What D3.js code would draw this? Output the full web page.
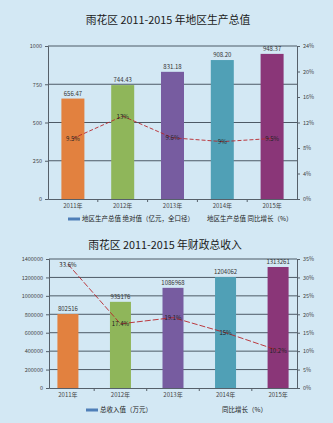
<!DOCTYPE html>
<html><head><meta charset="utf-8">
<script src="https://cdn.jsdelivr.net/npm/d3@7"></script>
<style>
html,body{margin:0;padding:0;background:#d3e8f4;}
svg{display:block;font-family:"Noto Sans CJK SC","Noto Sans",sans-serif;}
</style></head><body>
<svg id="c" width="333" height="423"></svg>
<script>
const years = ["2011年","2012年","2013年","2014年","2015年"];
const colors = ["#e2813f","#8fb65a","#775ca0","#50a0b6","#8a3678"];

// Chart 1: GDP
const gdpTitle = "雨花区 2011-2015 年地区生产总值";
const gdpValues = [656.47, 744.43, 831.18, 908.2, 948.37];
const gdpGrowth = [9.5, 13.0, 9.6, 9.0, 9.5];
const gdpLeftTicks = [0, 250, 500, 750, 1000];
const gdpRightTicks = [0, 4, 8, 12, 16, 20, 24];
const gdpLegend = ["地区生产总值 绝对值（亿元，全口径）", "地区生产总值 同比增长（%）"];

// Chart 2: fiscal revenue
const revTitle = "雨花区 2011-2015 年财政总收入";
const revValues = [802516, 935176, 1086968, 1204062, 1313261];
const revGrowth = [33.6, 17.4, 19.1, 15.0, 10.2];
const revLeftTicks = [0, 200000, 400000, 600000, 800000, 1000000, 1200000, 1400000];
const revRightTicks = [0, 5, 10, 15, 20, 25, 30, 35];
const revLegend = ["总收入值（万元）", "同比增长（%）"];

const svg = d3.select("#c");

function drawChart(o) {
  const g = svg.append("g");
  g.append("text").attr("x", o.titleX).attr("y", o.titleY)
    .attr("text-anchor", "middle").attr("font-size", 10.8).attr("fill", "#1a1a1a")
    .text(o.title);

  const x = d3.scaleBand().domain(years).range([o.left, o.right])
    .paddingInner(o.pi).paddingOuter(o.po);
  const y = d3.scaleLinear().domain([0, o.yMax]).range([o.bottom, o.top]);
  const yr = d3.scaleLinear().domain([0, o.rMax]).range([o.bottom, o.top]);

  // gridlines
  g.append("g").selectAll("line").data(o.leftTicks.filter(d => d > 0)).join("line")
    .attr("x1", o.left).attr("x2", o.right)
    .attr("y1", d => y(d)).attr("y2", d => y(d))
    .attr("stroke", "#4d5a66").attr("stroke-width", 1);

  // bars
  g.append("g").selectAll("rect").data(o.values).join("rect")
    .attr("x", (d, i) => x(years[i]) + (x.bandwidth() - o.barW) / 2)
    .attr("width", o.barW)
    .attr("y", d => y(d)).attr("height", d => o.bottom - y(d))
    .attr("fill", (d, i) => colors[i]);

  // bar labels
  g.append("g").selectAll("text").data(o.values).join("text")
    .attr("x", (d, i) => x(years[i]) + x.bandwidth() / 2)
    .attr("y", d => y(d) - 3)
    .attr("text-anchor", "middle").attr("font-size", 6).attr("fill", "#333")
    .text(d => o.fmt(d));

  // axes
  const ax = g.append("g").attr("transform", `translate(${o.left},0)`)
    .call(d3.axisLeft(y).tickValues(o.leftTicks).tickSize(3).tickFormat(d3.format("d")));
  const axr = g.append("g").attr("transform", `translate(${o.right},0)`)
    .call(d3.axisRight(yr).tickValues(o.rightTicks).tickSize(3).tickFormat(d => d + "%"));
  const axb = g.append("g").attr("transform", `translate(0,${o.bottom})`)
    .call(d3.axisBottom(x).tickSize(0).tickPadding(5));
  [ax, axr, axb].forEach(a => {
    a.selectAll("path").attr("stroke", "#56606a");
    a.selectAll("line").attr("stroke", "#56606a");
    a.selectAll("text").attr("font-size", 5.5).attr("fill", "#444")
      .attr("font-family", '"Noto Sans CJK SC","Noto Sans",sans-serif');
  });
  axb.selectAll("text").attr("font-size", 6);
  // small tick marks between categories
  g.append("g").selectAll("line").data(years.slice(1)).join("line")
    .attr("x1", d => x(d) - x.step() * x.paddingInner() / 2)
    .attr("x2", d => x(d) - x.step() * x.paddingInner() / 2)
    .attr("y1", o.bottom).attr("y2", o.bottom + 3)
    .attr("stroke", "#56606a");

  // growth line
  const line = d3.line().x((d, i) => x(years[i]) + x.bandwidth() / 2).y(d => yr(d));
  g.append("path").datum(o.growth).attr("d", line)
    .attr("fill", "none").attr("stroke", "#b8262b").attr("stroke-width", 0.9)
    .attr("stroke-dasharray", o.dash);
  g.append("g").selectAll("text").data(o.growth).join("text")
    .attr("x", (d, i) => x(years[i]) + x.bandwidth() / 2)
    .attr("y", d => yr(d) + 2.5)
    .attr("text-anchor", "middle").attr("font-size", 6).attr("fill", "#222")
    .text(d => d3.format("~")(d) + "%");

  // legend
  g.append("line").attr("x1", o.lg1).attr("x2", o.lg1 + 12)
    .attr("y1", o.legendY).attr("y2", o.legendY)
    .attr("stroke", "#4f7fb8").attr("stroke-width", 3);
  g.append("text").attr("x", o.lg1 + 14).attr("y", o.legendY + 2.2)
    .attr("font-size", 6.5).attr("fill", "#222").text(o.legend[0]);
  g.append("text").attr("x", o.lg2).attr("y", o.legendY + 2.2)
    .attr("font-size", 6.5).attr("fill", "#222").text(o.legend[1]);
}

drawChart({
  title: gdpTitle, titleX: 168, titleY: 24,
  left: 48, right: 297, top: 46, bottom: 199, pi: 0.54, po: 0.27, barW: 23,
  yMax: 1000, rMax: 24, leftTicks: gdpLeftTicks, rightTicks: gdpRightTicks,
  values: gdpValues, growth: gdpGrowth, fmt: d3.format(".2f"), dash: "4,2",
  legend: gdpLegend, legendY: 219, lg1: 68, lg2: 207
});

drawChart({
  title: revTitle, titleX: 165, titleY: 249,
  left: 49, right: 297, top: 259, bottom: 388, pi: 0.6, po: 0.16, barW: 21,
  yMax: 1400000, rMax: 35, leftTicks: revLeftTicks, rightTicks: revRightTicks,
  values: revValues, growth: revGrowth, fmt: d3.format("d"), dash: "6,2",
  legend: revLegend, legendY: 410, lg1: 86, lg2: 222
});
</script>
</body></html>
